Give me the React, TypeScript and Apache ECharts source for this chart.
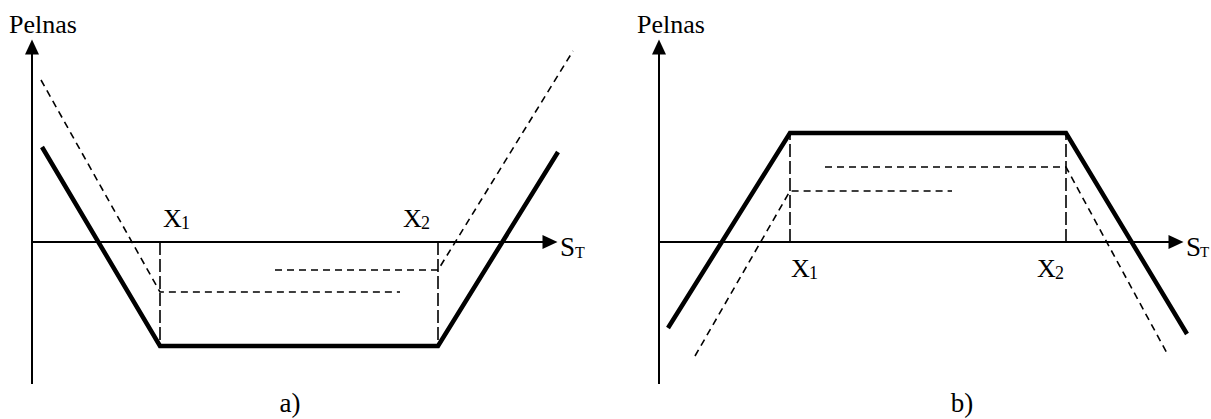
import React, { useEffect, useRef } from "react";
import * as echarts from "echarts";

// Panel a) — values read in chart units (origin at the axes' crossing)
const panelAThick = [[10, 95], [128, -104], [406, -104], [526, 90]];
const panelADashLeft = [[9, 162], [128, -50], [368, -50]];
const panelADashRight = [[243, -28], [406, -28], [541, 191]];
const panelAGuideX1 = [[128, 0], [128, -104]];
const panelAGuideX2 = [[406, 0], [406, -104]];

// Panel b)
const panelBThick = [[9, -86], [131, 109], [407, 109], [528, -92]];
const panelBDashLeft = [[36, -114], [131, 51], [293, 51]];
const panelBDashRight = [[166, 75], [407, 75], [509, -113]];
const panelBGuideX1 = [[131, 0], [131, 109]];
const panelBGuideX2 = [[407, 0], [407, 109]];

// Axis arrows (ends of the drawn axes)
const axisEndXA = 518;
const axisEndXB = 517;
const axisYMin = -142;
const axisYMax = 195;
// Scale extents (wider than the drawn axes so nothing is clipped)
const scaleXMaxA = 545;
const scaleXMaxB = 530;

const yLabel = "Pelnas";
const xLabelMain = "S";
const xLabelSub = "T";
const strikeMain = "X";
const strikeSubs = ["1", "2"];
const panelCaptions = ["a)", "b)"];

const FONT = "Liberation Serif";

function lineSeries(data: number[][], idx: number, width: number, type: any) {
  return {
    type: "line",
    xAxisIndex: idx,
    yAxisIndex: idx,
    data,
    symbol: "none",
    showSymbol: false,
    clip: false,
    silent: true,
    lineStyle: { color: "#000", width, type, join: "miter", cap: "butt" },
  };
}

function axesSeries(idx: number, xEnd: number) {
  return {
    type: "line",
    xAxisIndex: idx,
    yAxisIndex: idx,
    data: [],
    symbol: "none",
    silent: true,
    markLine: {
      silent: true,
      animation: false,
      symbol: ["none", "triangle"],
      symbolSize: [14, 15],
      label: { show: false },
      emphasis: { disabled: true },
      lineStyle: { color: "#000", width: 2, type: "solid" },
      data: [
        [{ coord: [0, 0] }, { coord: [xEnd, 0] }],
        [{ coord: [0, axisYMin] }, { coord: [0, axisYMax] }],
      ],
    },
  };
}

function xAxisDef(idx: number, max: number) {
  return {
    gridIndex: idx,
    type: "value",
    min: 0,
    max,
    show: false,
    splitLine: { show: false },
  };
}

function yAxisDef(idx: number) {
  return {
    gridIndex: idx,
    type: "value",
    min: axisYMin,
    max: axisYMax,
    show: false,
    splitLine: { show: false },
  };
}

function txt(text: string, x: number, y: number, size: number, align = "left") {
  return {
    type: "text",
    x,
    y,
    silent: true,
    style: {
      text,
      fontSize: size,
      fontFamily: FONT,
      fill: "#000",
      align,
      verticalAlign: "middle",
    },
  };
}

export default function App() {
  const ref = useRef<HTMLDivElement>(null);
  useEffect(() => {
    if (!ref.current) return;
    const chart = echarts.init(ref.current, undefined, { renderer: "svg" });
    const dashDiag = [7, 5];
    const guide = [13, 4];
    chart.setOption({
      animation: false,
      backgroundColor: "#fff",
      grid: [
        { left: 32, top: 47, width: scaleXMaxA, height: 337 },
        { left: 659, top: 47, width: scaleXMaxB, height: 337 },
      ],
      xAxis: [xAxisDef(0, scaleXMaxA), xAxisDef(1, scaleXMaxB)],
      yAxis: [yAxisDef(0), yAxisDef(1)],
      series: [
        axesSeries(0, axisEndXA),
        axesSeries(1, axisEndXB),
        lineSeries(panelAGuideX1, 0, 1.6, guide),
        lineSeries(panelAGuideX2, 0, 1.6, guide),
        lineSeries(panelADashLeft, 0, 1.6, dashDiag),
        lineSeries(panelADashRight, 0, 1.6, dashDiag),
        lineSeries(panelAThick, 0, 4.5, "solid"),
        lineSeries(panelBGuideX1, 1, 1.6, guide),
        lineSeries(panelBGuideX2, 1, 1.6, guide),
        lineSeries(panelBDashLeft, 1, 1.6, dashDiag),
        lineSeries(panelBDashRight, 1, 1.6, dashDiag),
        lineSeries(panelBThick, 1, 4.5, "solid"),
      ],
      graphic: [
        txt(yLabel, 9, 24, 26),
        txt(yLabel, 637, 24, 26),
        txt(strikeMain, 163, 218, 26),
        txt(strikeSubs[0], 181, 223, 18),
        txt(strikeMain, 403, 218, 26),
        txt(strikeSubs[1], 421, 223, 18),
        txt(strikeMain, 791, 268, 26),
        txt(strikeSubs[0], 809, 273, 18),
        txt(strikeMain, 1037, 268, 26),
        txt(strikeSubs[1], 1055, 273, 18),
        txt(xLabelMain, 560, 247, 27),
        txt(xLabelSub, 575, 252, 16),
        txt(xLabelMain, 1186, 247, 27),
        txt(xLabelSub, 1200, 252, 15),
        txt(panelCaptions[0], 290, 403, 27, "center"),
        txt(panelCaptions[1], 962, 403, 27, "center"),
      ],
    });
    return () => chart.dispose();
  }, []);
  return (
    <div
      ref={ref}
      style={{ position: "fixed", left: 0, top: 0, width: 1211, height: 419, background: "#fff" }}
    />
  );
}
